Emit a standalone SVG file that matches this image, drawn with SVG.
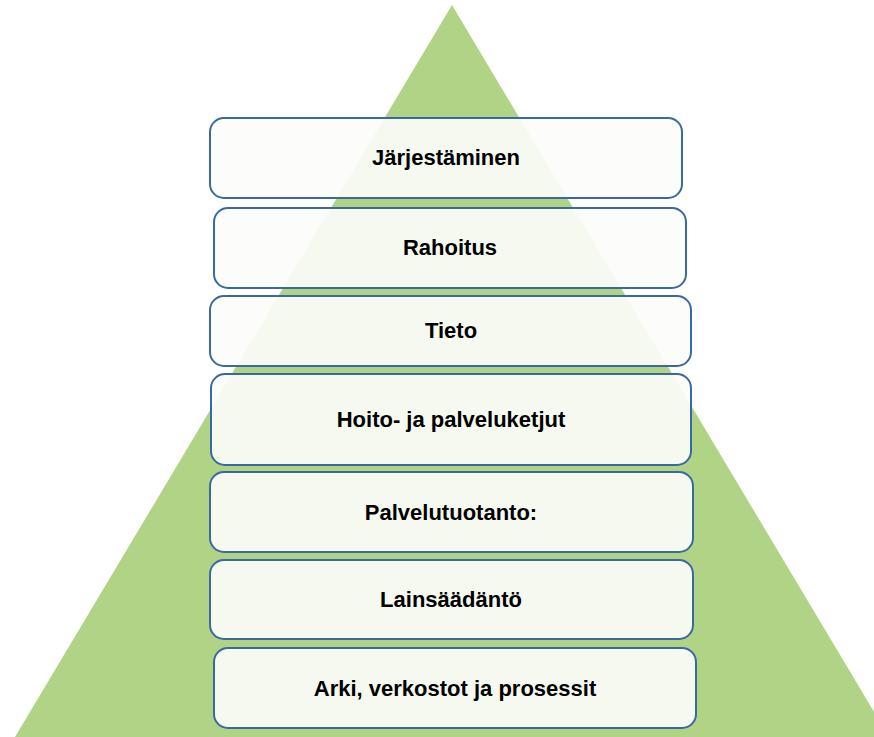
<svg xmlns="http://www.w3.org/2000/svg" width="874" height="737" viewBox="0 0 874 737">
  <style>
    .box { fill: #fcfdfb; fill-opacity: 0.91; stroke: #3a68a3; stroke-width: 2; }
    .lbl { font-family: "Liberation Sans", Arial, sans-serif; font-weight: bold; font-size: 22px; fill: #000000; text-anchor: middle; }
  </style>
  <rect x="0" y="0" width="874" height="737" fill="#ffffff"/>
  <g id="pyramid">
    <polygon points="452,5 15,737 889,737" fill="#b1d385"/>
  </g>
  <g id="connectors"></g>
  <g id="node-jarjestaminen">
    <rect class="box" x="210" y="118" width="472" height="80" rx="14"/>
    <text class="lbl" x="446" y="165">Järjestäminen</text>
  </g>
  <g id="node-rahoitus">
    <rect class="box" x="214" y="208" width="472" height="80" rx="14"/>
    <text class="lbl" x="450" y="255">Rahoitus</text>
  </g>
  <g id="node-tieto">
    <rect class="box" x="210" y="296" width="481" height="70" rx="14"/>
    <text class="lbl" x="451" y="338">Tieto</text>
  </g>
  <g id="node-hoito">
    <rect class="box" x="211" y="374" width="480" height="91" rx="14"/>
    <text class="lbl" x="451" y="427">Hoito- ja palveluketjut</text>
  </g>
  <g id="node-palvelutuotanto">
    <rect class="box" x="210" y="472" width="483" height="80" rx="14"/>
    <text class="lbl" x="451" y="520">Palvelutuotanto:</text>
  </g>
  <g id="node-lainsaadanto">
    <rect class="box" x="210" y="560" width="483" height="79" rx="14"/>
    <text class="lbl" x="451" y="607">Lainsäädäntö</text>
  </g>
  <g id="node-arki">
    <rect class="box" x="214" y="648" width="482" height="80" rx="14"/>
    <text class="lbl" x="455" y="696">Arki, verkostot ja prosessit</text>
  </g>
</svg>
